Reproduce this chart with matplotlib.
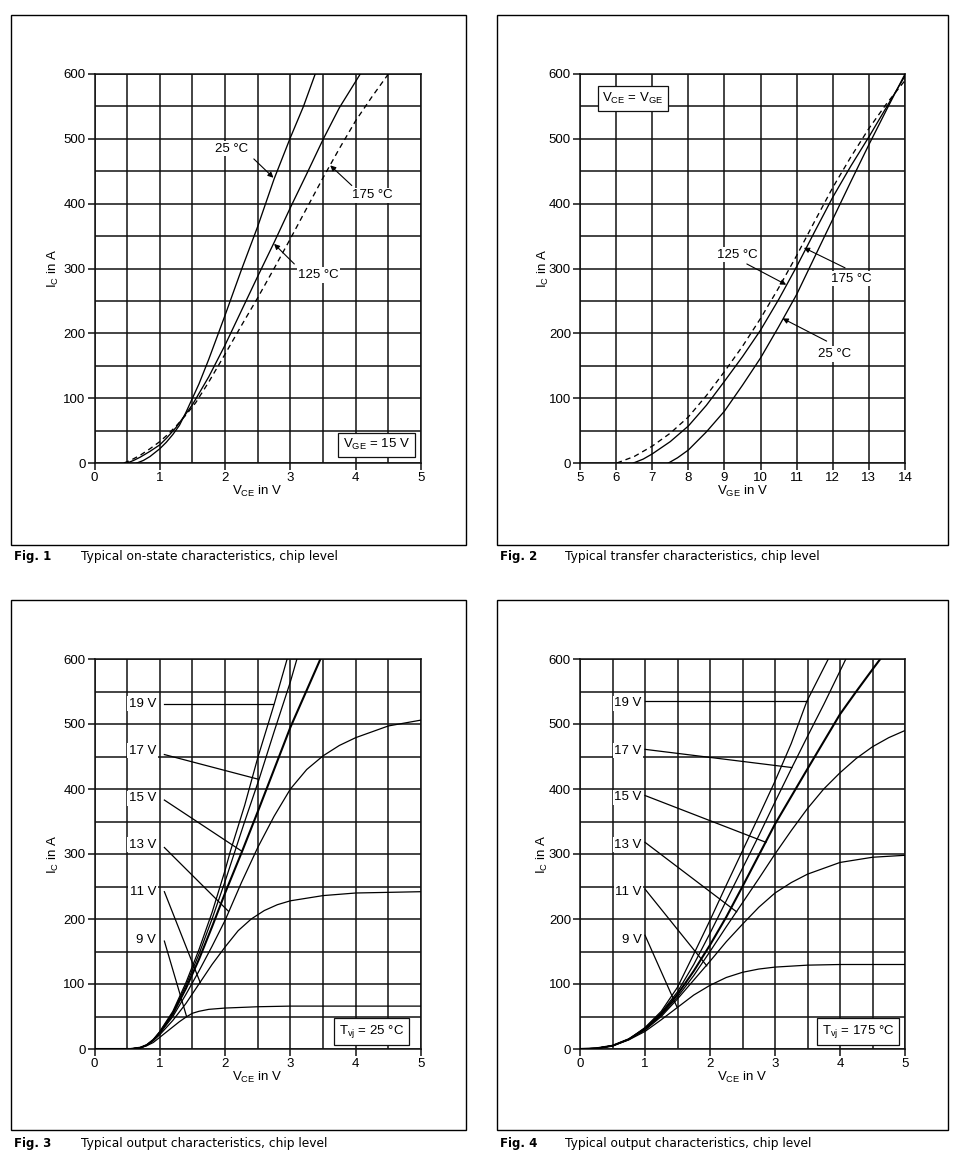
import matplotlib
matplotlib.use("Agg")
import matplotlib.pyplot as plt
from matplotlib.patches import Rectangle

plt.rcParams['font.family'] = ['Liberation Sans', 'DejaVu Sans']
plt.rcParams['mathtext.default'] = 'regular'

# ---- Fig. 1: on-state characteristics, IC vs VCE (VGE = 15 V)
f1_vce_25 = [0.65, 0.75, 0.85, 1.0, 1.1, 1.2, 1.3, 1.4, 1.5, 1.6, 1.75, 2.0, 2.25, 2.5, 2.75, 3.0, 3.2, 3.38]
f1_ic_25 = [0, 4, 10, 22, 32, 44, 58, 78, 100, 122, 160, 228, 298, 365, 438, 502, 550, 600]
f1_vce_125 = [0.5, 0.6, 0.7, 0.85, 1.0, 1.1, 1.25, 1.4, 1.5, 1.75, 2.0, 2.25, 2.5, 2.75, 3.0, 3.25, 3.5, 3.75, 4.07]
f1_ic_125 = [0, 4, 9, 18, 28, 38, 55, 76, 90, 133, 182, 235, 288, 340, 394, 446, 499, 548, 600]
f1_vce_175 = [0.45, 0.55, 0.7, 0.85, 1.0, 1.1, 1.25, 1.4, 1.55, 1.75, 2.0, 2.25, 2.5, 2.75, 3.0, 3.25, 3.5, 3.75, 4.0, 4.25, 4.5]
f1_ic_175 = [0, 4, 12, 22, 33, 42, 57, 74, 93, 125, 168, 212, 255, 300, 346, 393, 440, 485, 528, 565, 600]

# ---- Fig. 2: transfer characteristics, IC vs VGE (VCE = VGE)
f2_vge_25 = [7.45, 7.7, 8.0, 8.5, 9.0, 9.5, 10.0, 10.5, 11.0, 11.5, 12.0, 12.5, 13.0, 13.5, 14.0]
f2_ic_25 = [0, 8, 20, 48, 80, 120, 162, 210, 260, 318, 376, 434, 491, 546, 600]
f2_vge_125 = [6.48, 6.75, 7.0, 7.5, 8.0, 8.5, 9.0, 9.5, 10.0, 10.5, 11.0, 11.5, 12.0, 12.5, 13.0, 13.5, 14.0]
f2_ic_125 = [0, 6, 14, 33, 57, 89, 126, 164, 205, 252, 303, 357, 410, 458, 503, 550, 597]
f2_vge_175 = [6.02, 6.5, 7.0, 7.5, 8.0, 8.5, 9.0, 9.5, 10.0, 10.5, 11.0, 11.5, 12.0, 12.5, 13.0, 13.5, 14.0]
f2_ic_175 = [0, 10, 26, 46, 71, 104, 141, 180, 223, 270, 320, 373, 425, 472, 516, 555, 590]

# ---- Fig. 3: output characteristics at Tvj = 25 degC, one curve per VGE
f3_vce_9 = [0, 0.55, 0.7, 0.8, 0.9, 1.0, 1.1, 1.2, 1.3, 1.4, 1.5, 1.6, 1.75, 2.0, 2.5, 3.0, 4.0, 5.0]
f3_ic_9 = [0, 0, 2, 5, 10, 18, 26, 34, 42, 49, 55, 58, 61, 63, 65, 66, 66, 66]
f3_vce_11 = [0, 0.55, 0.7, 0.8, 0.9, 1.0, 1.2, 1.4, 1.6, 1.8, 2.0, 2.2, 2.4, 2.6, 2.8, 3.0, 3.5, 4.0, 4.5, 5.0]
f3_ic_11 = [0, 0, 2, 6, 13, 22, 44, 70, 100, 130, 157, 182, 200, 213, 222, 228, 236, 240, 241, 242]
f3_vce_13 = [0, 0.55, 0.7, 0.8, 0.9, 1.0, 1.2, 1.4, 1.6, 1.8, 2.0, 2.25, 2.5, 2.75, 3.0, 3.25, 3.5, 3.75, 4.0, 4.5, 5.0]
f3_ic_13 = [0, 0, 2, 6, 13, 24, 50, 84, 120, 158, 198, 256, 310, 358, 400, 430, 451, 467, 479, 497, 506]
f3_vce_15 = [0, 0.55, 0.7, 0.8, 0.9, 1.0, 1.2, 1.4, 1.6, 1.8, 2.0, 2.26, 2.5, 2.75, 3.0, 3.25, 3.46]
f3_ic_15 = [0, 0, 2, 6, 14, 25, 54, 93, 138, 188, 240, 304, 365, 430, 495, 552, 600]
f3_vce_17 = [0, 0.55, 0.7, 0.8, 0.9, 1.0, 1.2, 1.4, 1.6, 1.8, 2.0, 2.15, 2.3, 2.52, 2.75, 3.0, 3.1]
f3_ic_17 = [0, 0, 2, 6, 14, 26, 56, 98, 146, 200, 258, 304, 350, 415, 488, 565, 600]
f3_vce_19 = [0, 0.55, 0.7, 0.8, 0.9, 1.0, 1.2, 1.4, 1.6, 1.8, 2.0, 2.08, 2.3, 2.5, 2.75, 2.95]
f3_ic_19 = [0, 0, 2, 6, 14, 27, 58, 102, 153, 210, 275, 304, 375, 448, 530, 600]

# ---- Fig. 4: output characteristics at Tvj = 175 degC
f4_vce_9 = [0, 0.25, 0.5, 0.75, 1.0, 1.25, 1.5, 1.75, 2.0, 2.25, 2.5, 2.75, 3.0, 3.5, 4.0, 5.0]
f4_ic_9 = [0, 1, 5, 14, 27, 45, 64, 83, 98, 110, 118, 123, 126, 129, 130, 130]
f4_vce_11 = [0, 0.25, 0.5, 0.75, 1.0, 1.25, 1.5, 1.75, 2.0, 2.25, 2.5, 2.75, 3.0, 3.25, 3.5, 4.0, 4.5, 5.0]
f4_ic_11 = [0, 1, 5, 15, 29, 50, 77, 106, 135, 165, 192, 218, 240, 256, 269, 287, 295, 298]
f4_vce_13 = [0, 0.25, 0.5, 0.75, 1.0, 1.25, 1.5, 1.75, 2.0, 2.25, 2.5, 2.75, 3.0, 3.25, 3.5, 3.75, 4.0, 4.25, 4.5, 4.75, 5.0]
f4_ic_13 = [0, 1, 5, 15, 30, 52, 80, 113, 150, 188, 225, 262, 300, 336, 370, 400, 425, 447, 465, 479, 490]
f4_vce_15 = [0, 0.25, 0.5, 0.75, 1.0, 1.25, 1.5, 1.75, 2.0, 2.25, 2.5, 2.75, 3.0, 3.5, 4.0, 4.25, 4.5, 4.62]
f4_ic_15 = [0, 1, 5, 15, 31, 54, 84, 120, 160, 203, 250, 298, 346, 431, 515, 550, 584, 600]
f4_vce_17 = [0, 0.25, 0.5, 0.75, 1.0, 1.25, 1.5, 1.75, 2.0, 2.25, 2.5, 2.75, 3.0, 3.26, 3.5, 3.75, 4.09]
f4_ic_17 = [0, 1, 5, 15, 32, 56, 88, 130, 178, 228, 278, 328, 380, 433, 481, 530, 600]
f4_vce_19 = [0, 0.25, 0.5, 0.75, 1.0, 1.25, 1.5, 1.75, 2.0, 2.25, 2.5, 2.75, 3.0, 3.25, 3.49, 3.82]
f4_ic_19 = [0, 1, 5, 15, 33, 58, 95, 146, 198, 252, 305, 358, 412, 470, 535, 600]

vge_labels = ["19 V", "17 V", "15 V", "13 V", "11 V", "9 V"]
# label anchor (IC) and where each leader line meets its curve (VCE, IC)
f3_label_ic = [531, 459, 386, 314, 241, 168]
f3_leader_start_ic = [531, 453, 383, 310, 242, 166]
f3_leader_end = [(2.74, 531), (2.51, 415), (2.26, 304), (2.05, 212), (1.62, 102), (1.41, 50)]
f4_label_ic = [532, 459, 387, 314, 241, 168]
f4_leader_start_ic = [535, 461, 390, 318, 246, 175]
f4_leader_end = [(3.49, 535), (3.26, 433), (2.86, 318), (2.41, 211), (1.95, 128), (1.49, 65)]

W, H = 960, 1163
INK = "black"
fig = plt.figure(figsize=(W / 100, H / 100), dpi=100)


def px_axes(x0, y0, x1, y1):
    return fig.add_axes([x0 / W, 1 - y1 / H, (x1 - x0) / W, (y1 - y0) / H])


def frame(x0, y0, x1, y1):
    fig.add_artist(Rectangle((x0 / W, 1 - y1 / H), (x1 - x0) / W, (y1 - y0) / H,
                             transform=fig.transFigure, fill=False, lw=1.0, ec=INK))


def style(ax, xmin, xmax, xmajor, xminor, xlabel):
    ax.set_xlim(xmin, xmax)
    ax.set_ylim(0, 600)
    ax.set_xticks(xmajor)
    ax.set_xticks(xminor, minor=True)
    ax.set_yticks(range(0, 601, 100))
    ax.set_yticks(range(50, 600, 100), minor=True)
    ax.grid(which="both", color="#111111", lw=1.1, zorder=1)
    ax.tick_params(which="major", direction="out", length=5, width=1.1, labelsize=9.5, pad=1.5, color="#111111")
    ax.tick_params(which="minor", length=0)
    for s in ax.spines.values():
        s.set_color("#111111")
        s.set_linewidth(1.1)
    ax.text(0.5, -0.072, xlabel, transform=ax.transAxes, ha="center", va="center", fontsize=9.5)
    ax.set_axisbelow(True)


LBL = dict(boxstyle="square,pad=0.12", fc="white", ec="none")
BOX = dict(boxstyle="square,pad=0.35", fc="white", ec="#111111", lw=0.9)
ARROW = dict(arrowstyle="-|>", color=INK, lw=0.8, mutation_scale=8, shrinkA=0, shrinkB=0)


def tag(ax, text, xy_text, xy_from, xy_to):
    ax.text(*xy_text, text, ha="center", va="center", fontsize=9.5, bbox=LBL, zorder=5)
    ax.annotate("", xy=xy_to, xytext=xy_from, arrowprops=ARROW, zorder=5)


half_steps = [i * 0.5 for i in range(11)]

# ---------- Fig. 1
frame(11, 15, 466, 545)
ax1 = px_axes(94.5, 74, 421, 463)
style(ax1, 0, 5, range(0, 6), half_steps, r"V$_{\mathregular{CE}}$ in V")
ax1.plot(f1_vce_25, f1_ic_25, color=INK, lw=0.95, zorder=3)
ax1.plot(f1_vce_125, f1_ic_125, color=INK, lw=0.95, zorder=3)
ax1.plot(f1_vce_175, f1_ic_175, color=INK, lw=0.95, ls=(0, (4, 3)), zorder=3)
tag(ax1, "25 °C", (2.10, 485), (2.44, 469), (2.74, 440))
tag(ax1, "175 °C", (4.26, 413), (3.94, 428), (3.61, 459))
tag(ax1, "125 °C", (3.43, 290), (3.06, 307), (2.75, 338))
ax1.text(4.32, 28, r"V$_{\mathregular{GE}}$ = 15 V", ha="center", va="center", fontsize=9.5, bbox=BOX, zorder=5)

# ---------- Fig. 2
frame(497, 15, 948, 545)
ax2 = px_axes(580, 74, 905, 463)
style(ax2, 5, 14, range(5, 15), range(5, 15), r"V$_{\mathregular{GE}}$ in V")
ax2.plot(f2_vge_25, f2_ic_25, color=INK, lw=0.95, zorder=3)
ax2.plot(f2_vge_125, f2_ic_125, color=INK, lw=0.95, zorder=3)
ax2.plot(f2_vge_175, f2_ic_175, color=INK, lw=0.95, ls=(0, (4, 3)), zorder=3)
tag(ax2, "125 °C", (9.37, 321), (9.62, 307), (10.71, 275))
tag(ax2, "175 °C", (12.5, 284), (12.34, 301), (11.2, 332))
tag(ax2, "25 °C", (12.06, 168), (11.83, 188), (10.61, 223))
ax2.text(6.47, 562, r"V$_{\mathregular{CE}}$ = V$_{\mathregular{GE}}$", ha="center", va="center",
         fontsize=9.5, bbox=BOX, zorder=5)

# ---------- Fig. 3
frame(11, 600, 466, 1130)
ax3 = px_axes(94.5, 659, 421, 1049)
style(ax3, 0, 5, range(0, 6), half_steps, r"V$_{\mathregular{CE}}$ in V")
f3_curves = [(f3_vce_19, f3_ic_19), (f3_vce_17, f3_ic_17), (f3_vce_15, f3_ic_15),
             (f3_vce_13, f3_ic_13), (f3_vce_11, f3_ic_11), (f3_vce_9, f3_ic_9)]
for (v, i), lab in zip(f3_curves, vge_labels):
    ax3.plot(v, i, color=INK, lw=1.5 if lab == "15 V" else 0.9, zorder=3)
for lab, ly, sy, end in zip(vge_labels, f3_label_ic, f3_leader_start_ic, f3_leader_end):
    ax3.text(0.945, ly, lab, ha="right", va="center", fontsize=9.5, bbox=LBL, zorder=5)
    ax3.plot([1.07, end[0]], [sy, end[1]], color=INK, lw=0.9, zorder=4)
ax3.text(4.24, 27, r"T$_{\mathregular{vj}}$ = 25 °C", ha="center", va="center", fontsize=9.5, bbox=BOX, zorder=5)

# ---------- Fig. 4
frame(497, 600, 948, 1130)
ax4 = px_axes(580, 659, 905, 1049)
style(ax4, 0, 5, range(0, 6), half_steps, r"V$_{\mathregular{CE}}$ in V")
f4_curves = [(f4_vce_19, f4_ic_19), (f4_vce_17, f4_ic_17), (f4_vce_15, f4_ic_15),
             (f4_vce_13, f4_ic_13), (f4_vce_11, f4_ic_11), (f4_vce_9, f4_ic_9)]
for (v, i), lab in zip(f4_curves, vge_labels):
    ax4.plot(v, i, color=INK, lw=1.5 if lab == "15 V" else 0.9, zorder=3)
for lab, ly, sy, end in zip(vge_labels, f4_label_ic, f4_leader_start_ic, f4_leader_end):
    ax4.text(0.95, ly, lab, ha="right", va="center", fontsize=9.5, bbox=LBL, zorder=5)
    ax4.plot([1.0, end[0]], [sy, end[1]], color=INK, lw=0.9, zorder=4)
ax4.text(4.28, 27, r"T$_{\mathregular{vj}}$ = 175 °C", ha="center", va="center", fontsize=9.5, bbox=BOX, zorder=5)

# y labels, captions
for ax, xpos in ((ax1, -0.126), (ax2, -0.114), (ax3, -0.126), (ax4, -0.117)):
    ax.text(xpos, 0.5, r"I$_{\mathregular{C}}$ in A", transform=ax.transAxes, rotation=90,
            ha="center", va="center", fontsize=9.5)

captions = [
    (14, 81, 557, "Fig. 1", "Typical on-state characteristics, chip level"),
    (500, 565, 557, "Fig. 2", "Typical transfer characteristics, chip level"),
    (14, 81, 1143, "Fig. 3", "Typical output characteristics, chip level"),
    (500, 565, 1143, "Fig. 4", "Typical output characteristics, chip level"),
]
for xf, xt, y, num, txt in captions:
    fig.text(xf / W, 1 - y / H, num, ha="left", va="center", fontsize=8.5, weight="bold", family="DejaVu Sans")
    fig.text(xt / W, 1 - y / H, txt, ha="left", va="center", fontsize=8.8, family="DejaVu Sans")

fig.savefig("out.png", dpi=100)
